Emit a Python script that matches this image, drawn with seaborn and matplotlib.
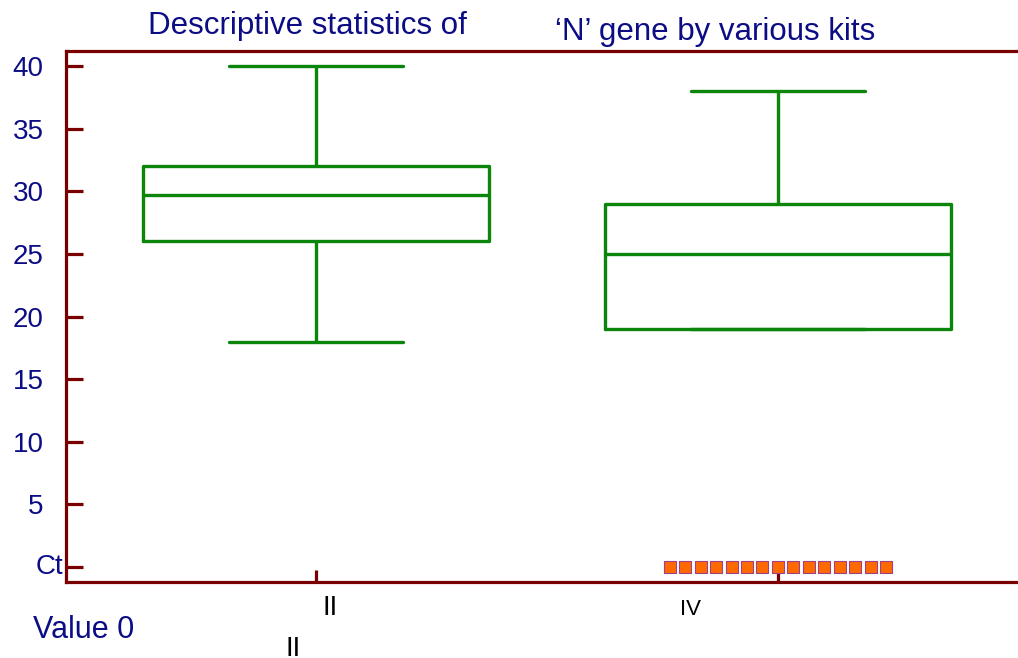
import pandas as pd
import seaborn as sns
import matplotlib.pyplot as plt
import matplotlib.transforms as mtransforms

# values (Ct values per kit)
kits = ['II', 'IV']
ct_kit_ii = [18, 26, 29.7, 32, 40]
ct_kit_iv = [19, 19, 25, 29, 38]
# undetected samples plotted at Ct = 0 for kit IV
zero_ct_iv = [0, 0, 0, 0, 0, 0, 0, 0, 0, 0, 0, 0, 0, 0, 0]
y_ticks = [0, 5, 10, 15, 20, 25, 30, 35, 40]
y_tick_labels = ['', '5', '10', '15', '20', '25', '30', '35', '40']

df = pd.DataFrame({
    'kit': ['II'] * len(ct_kit_ii) + ['IV'] * len(ct_kit_iv),
    'ct': ct_kit_ii + ct_kit_iv,
})
df_zero = pd.DataFrame({'kit': ['IV'] * len(zero_ct_iv), 'ct': zero_ct_iv})

sns.set_style('white')
plt.rcParams['font.family'] = ['Liberation Sans', 'DejaVu Sans']

navy = '#0c0c85'
spine_col = '#780000'
green = '#0b850b'

fig = plt.figure(figsize=(10.18, 6.58), dpi=100)
ax = fig.add_axes([66 / 1018, 1 - 582 / 658, 964 / 1018, 531 / 658])

sns.boxplot(data=df, x='kit', y='ct', order=kits, ax=ax, fill=False,
            color=green, linewidth=2.4, width=0.75, whis=1.5, showfliers=False)
sns.swarmplot(data=df_zero, x='kit', y='ct', order=kits, ax=ax, marker='s',
              size=9.8, color='#ff6a00', edgecolor='#a0408a', linewidth=0.8)

ax.set_xlim(-0.541, -0.541 + 964 / 462)
ax.set_ylim(-1.2, 41.2)
ax.set_xlabel('')
ax.set_ylabel('')

for side in ['left', 'bottom', 'top', 'right']:
    ax.spines[side].set_color(spine_col)
    ax.spines[side].set_linewidth(2.3)

ax.set_yticks(y_ticks)
ax.set_yticklabels(y_tick_labels)
ax.tick_params(axis='y', direction='in', length=12, width=2.3, color=spine_col,
               labelsize=20, labelcolor=navy, pad=16, left=True)
ax.set_xticks([0, 1])
ax.set_xticklabels(['', ''])
ax.tick_params(axis='x', direction='in', length=9, width=2.3, color=spine_col,
               bottom=True)

blend = mtransforms.blended_transform_factory(ax.transData, ax.transAxes)
ax.text(0.03, -0.025, 'II', transform=blend, ha='center', va='top',
        fontsize=20, color='black')
ax.text(0.81, -0.032, 'IV', transform=blend, ha='center', va='top',
        fontsize=16, color='black')

fig.text(63 / 1018, 1 - 567 / 658, 'Ct', ha='right', va='center',
         fontsize=20, color=navy)
fig.text(33 / 1018, 1 - 630 / 658, 'Value 0', ha='left', va='center',
         fontsize=22, color=navy)
# this label sits partly below the lower edge, as in the reference
fig.text(293 / 1018, 1 - 662 / 658, 'II', ha='center', va='bottom',
         fontsize=20, color='black')
fig.text(307 / 1018, 1 - 26 / 658, 'Descriptive statistics of', ha='center',
         va='center', fontsize=22.5, color=navy)
fig.text(715 / 1018, 1 - 32 / 658, '\u2018N\u2019 gene by various kits',
         ha='center', va='center', fontsize=22.5, color=navy)

# fix the swarm layout, then shrink the squares so a small gap shows
fig.canvas.draw()
squares = ax.collections[-1]
if 'draw' in squares.__dict__:
    del squares.draw
squares.set_sizes([8.4 ** 2])

fig.savefig('out.png', dpi=100)
